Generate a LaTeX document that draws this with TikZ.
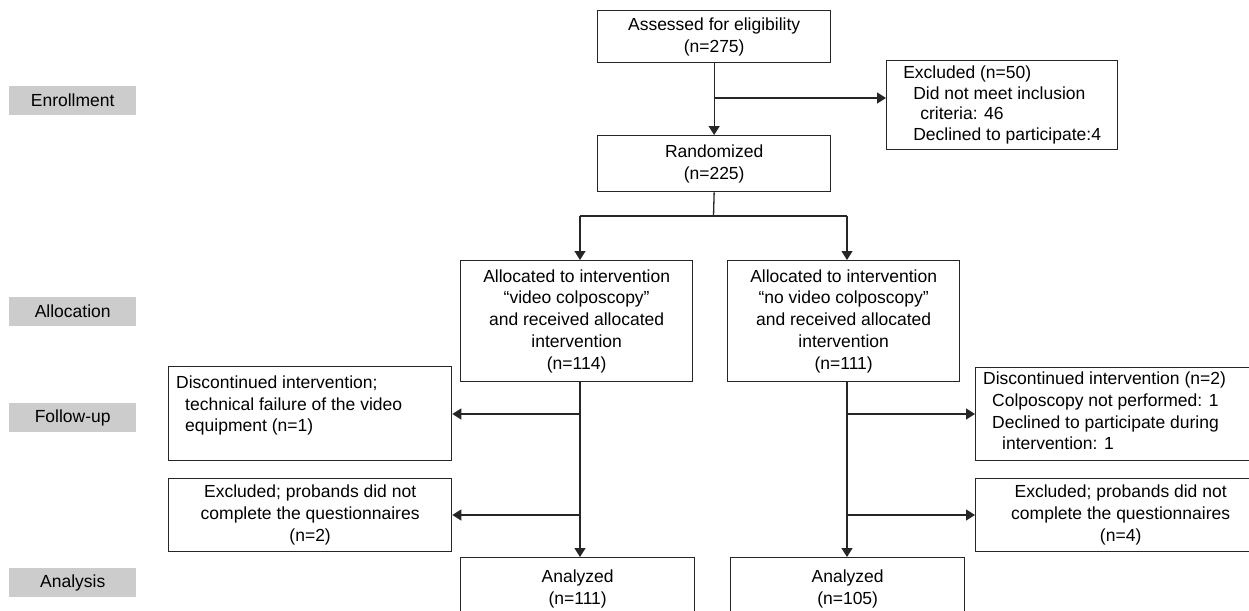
\documentclass[tikz,border=0pt]{standalone}
\usepackage{fontspec}
\setmainfont{Liberation Sans}
\usetikzlibrary{arrows.meta,calc}
\begin{document}
\begin{tikzpicture}[x=1pt,y=-1pt,
  every node/.style={font=\fontsize{17.5}{21.7}\selectfont, inner sep=0pt},
  box/.style={draw=black!85, line width=1.3pt, rectangle, anchor=north west, align=center},
  lbl/.style={fill=gray!40, anchor=north west, minimum width=127pt, minimum height=29pt},
  txt/.style={anchor=north west, align=left},
  ln/.style={line width=1.3pt, draw=black!85},
  arr/.style={ln, -{Triangle[width=11pt,length=9pt]}}]
\useasboundingbox (0,0) rectangle (1249,610);
\clip (0,0) rectangle (1249,610);
% phase labels
\node[lbl] (enr) at (9,86) {Enrollment};
\node[lbl] (alc) at (9,297) {Allocation};
\node[lbl] (fol) at (9,403) {Follow-up};
\node[lbl] (ana) at (9,568) {Analysis};
% boxes
\node[box, minimum width=233pt, minimum height=52pt] (assess) at (597,10) {Assessed for eligibility\\(n=275)};
\node[box, minimum width=233pt, minimum height=56pt] (rand) at (597,135) {Randomized\\(n=225)};
\node[box, minimum width=231pt, minimum height=89pt, align=left, font=\fontsize{17.5}{20.5}\selectfont] (excl) at (886,60)
  {Excluded (n=50)\\\hspace*{10pt}Did not meet inclusion\\\hspace*{17pt}criteria: 46\\\hspace*{10pt}Declined to participate:4};
\node[box, minimum width=232pt, minimum height=121pt] (allocL) at (460,260)
  {Allocated to intervention\\``video colposcopy''\\and received allocated\\intervention\\(n=114)};
\node[box, minimum width=232pt, minimum height=121pt] (allocR) at (727,260)
  {Allocated to intervention\\``no video colposcopy''\\and received allocated\\intervention\\(n=111)};
\node[box, minimum width=283pt, minimum height=94pt] (dL) at (168,366) {};
\node[txt] (dLt) at ($(dL.north west)+(8,9.5)$)
  {Discontinued intervention;\\\hspace*{9pt}technical failure of the video\\\hspace*{9pt}equipment (n=1)};
\node[box, minimum width=283pt, minimum height=73pt] (eL) at (168,478)
  {Excluded; probands did not\\complete the questionnaires\\(n=2)};
\node[box, minimum width=290pt, minimum height=93pt] (dR) at (975,367) {};
\node[txt] (dRt) at ($(dR.north west)+(8,5)$)
  {Discontinued intervention (n=2)\\\hspace*{9pt}Colposcopy not performed: 1\\\hspace*{9pt}Declined to participate during\\\hspace*{19pt}intervention: 1};
\node[box, minimum width=290pt, minimum height=73pt] (eR) at (975,478)
  {Excluded; probands did not\\complete the questionnaires\\(n=4)};
\node[box, minimum width=234pt, minimum height=62pt] (anL) at (460,557) {Analyzed\\(n=111)};
\node[box, minimum width=234pt, minimum height=62pt] (anR) at (730,557) {Analyzed\\(n=105)};
% connector points
\coordinate (b1) at (713.5,98);
\coordinate (split) at (713.5,216);
\coordinate (sl) at (580,216);
\coordinate (sr) at (847,216);
\coordinate (fl1) at (580,414);
\coordinate (fl2) at (580,515);
\coordinate (fr1) at (847,414);
\coordinate (fr2) at (847,515);
% connectors
\draw[arr] (assess.south) -- (rand.north);
\draw[arr] (b1) -- (b1 -| excl.west);
\draw[ln] (rand.south) -- (split);
\draw[ln] (sl) -- (sr);
\draw[arr] (sl) -- (sl |- allocL.north);
\draw[arr] (sr) -- (sr |- allocR.north);
\draw[arr] (allocL.south -| sl) -- (anL.north -| sl);
\draw[arr] (allocR.south -| sr) -- (anR.north -| sr);
\draw[arr] (fl1) -- (fl1 -| dL.east);
\draw[arr] (fl2) -- (fl2 -| eL.east);
\draw[arr] (fr1) -- (fr1 -| dR.west);
\draw[arr] (fr2) -- (fr2 -| eR.west);
\end{tikzpicture}
\end{document}
